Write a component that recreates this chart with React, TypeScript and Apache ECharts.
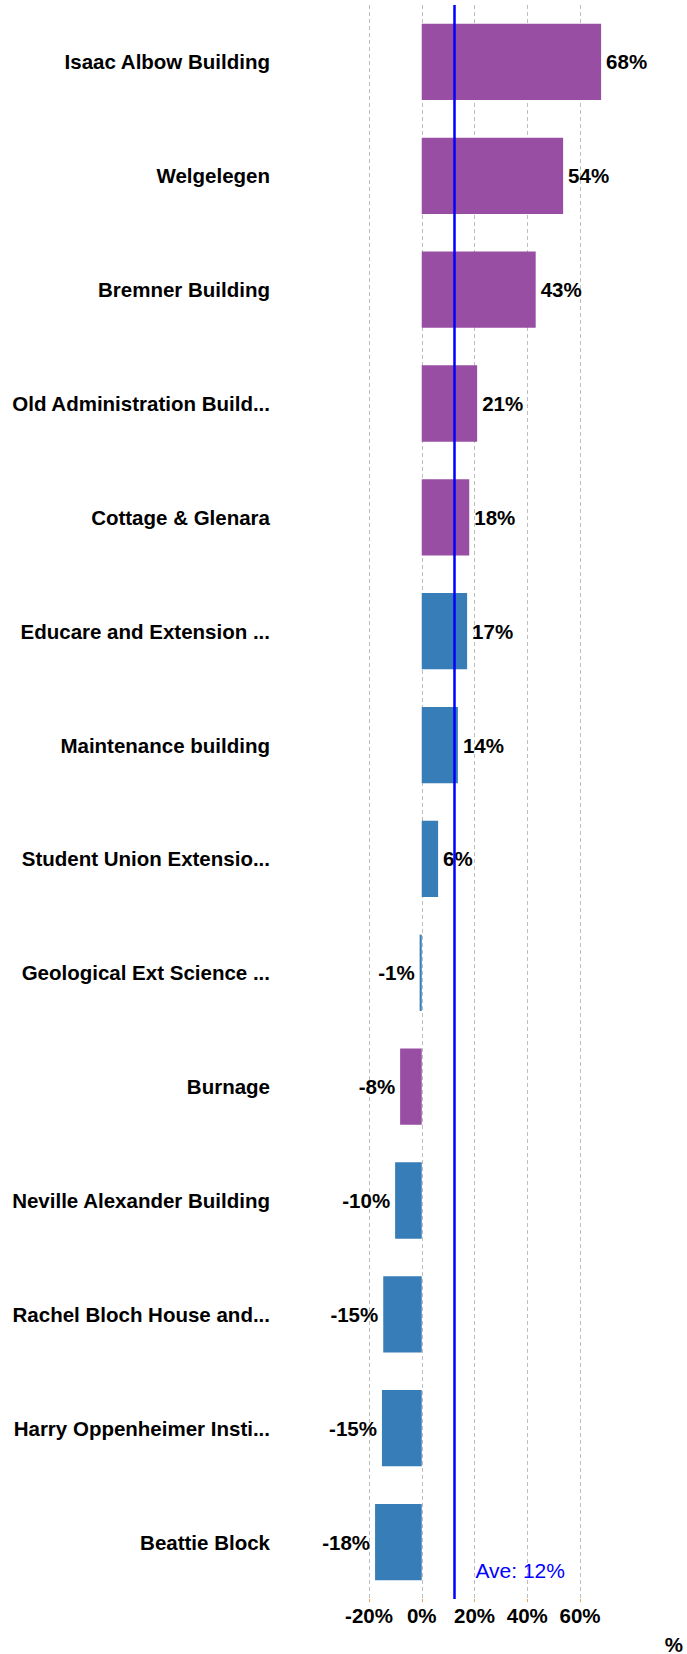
import React, { useEffect, useRef } from "react";
import * as echarts from "echarts";

const categories = [
  "Isaac Albow Building",
  "Welgelegen",
  "Bremner Building",
  "Old Administration Build...",
  "Cottage & Glenara",
  "Educare and Extension ...",
  "Maintenance building",
  "Student Union Extensio...",
  "Geological Ext Science ...",
  "Burnage",
  "Neville Alexander Building",
  "Rachel Bloch House and...",
  "Harry Oppenheimer Insti...",
  "Beattie Block",
];
const values = [68, 53.6, 43.2, 21, 18, 17.2, 13.7, 6.2, -0.8, -8.2, -10.1, -14.6, -15.1, -17.7];
const groups = ["A", "A", "A", "A", "A", "B", "B", "B", "B", "A", "B", "B", "B", "B"];
const groupColors: Record<string, string> = { A: "#984EA3", B: "#377EB8" };
const AVERAGE = 12.4;
const AVERAGE_LABEL = "Ave: 12%";
const X_MIN = -20;
const X_MAX = 60;
const X_INTERVAL = 20;
const AXIS_NAME = "%";

const W = 687;
const H = 1654;
const BOLD_FONT = "'Liberation Sans', Arial, sans-serif";

export default function App() {
  const ref = useRef<HTMLDivElement>(null);
  useEffect(() => {
    if (!ref.current) return;
    const chart = echarts.init(ref.current, null, { renderer: "svg" });
    const gridBottom = 55;
    chart.setOption({
      animation: false,
      backgroundColor: "#ffffff",
      grid: { left: 369, right: 107, top: 5, bottom: gridBottom, containLabel: false, outerBoundsMode: "none" },
      xAxis: {
        type: "value",
        min: X_MIN,
        max: X_MAX,
        interval: X_INTERVAL,
        axisLine: { show: false },
        axisTick: { show: true, length: 3, lineStyle: { color: "#F5A04A", width: 1 } },
        axisLabel: {
          formatter: "{value}%",
          fontSize: 20.5,
          fontWeight: "bold",
          color: "#000",
          fontFamily: BOLD_FONT,
          margin: 6,
        },
        splitLine: { show: true, lineStyle: { color: "#bdbdbd", type: [4, 3], width: 1 } },
      },
      yAxis: {
        type: "category",
        inverse: true,
        data: categories,
        axisLine: { show: false },
        axisTick: { show: false },
        axisLabel: {
          fontSize: 20.5,
          fontWeight: "bold",
          color: "#000",
          fontFamily: BOLD_FONT,
          margin: 99,
        },
        splitLine: { show: false },
      },
      series: [
        {
          type: "bar",
          clip: false,
          barCategoryGap: "33%",
          data: values.map((v, i) => ({
            value: v,
            itemStyle: { color: groupColors[groups[i]] },
            label: { position: v >= 0 ? "right" : "left" },
          })),
          label: {
            show: true,
            distance: 5,
            fontSize: 20.5,
            fontWeight: "bold",
            color: "#000",
            fontFamily: BOLD_FONT,
            formatter: (p: any) => Math.round(p.value) + "%",
          },
          markLine: {
            silent: true,
            symbol: "none",
            lineStyle: { color: "#0000FF", width: 2.5, type: "solid" },
            label: { show: false },
            data: [{ xAxis: AVERAGE }],
          },
        },
      ],
    });
    const ax = chart.convertToPixel({ xAxisIndex: 0 }, AVERAGE) as number;
    chart.setOption({
      graphic: [
        {
          type: "text",
          x: ax + 21,
          y: H - gridBottom - 29,
          style: {
            text: AVERAGE_LABEL,
            fill: "#0000FF",
            fontSize: 21,
            fontFamily: BOLD_FONT,
            align: "left",
            verticalAlign: "middle",
          },
        },
        {
          type: "text",
          x: W - 4,
          y: H - 10,
          style: {
            text: AXIS_NAME,
            fill: "#000",
            fontSize: 20.5,
            fontWeight: "bold",
            fontFamily: BOLD_FONT,
            align: "right",
            verticalAlign: "middle",
          },
        },
      ],
    });
    return () => chart.dispose();
  }, []);
  return (
    <div
      ref={ref}
      style={{ position: "absolute", left: 0, top: 0, width: W, height: H }}
    />
  );
}
